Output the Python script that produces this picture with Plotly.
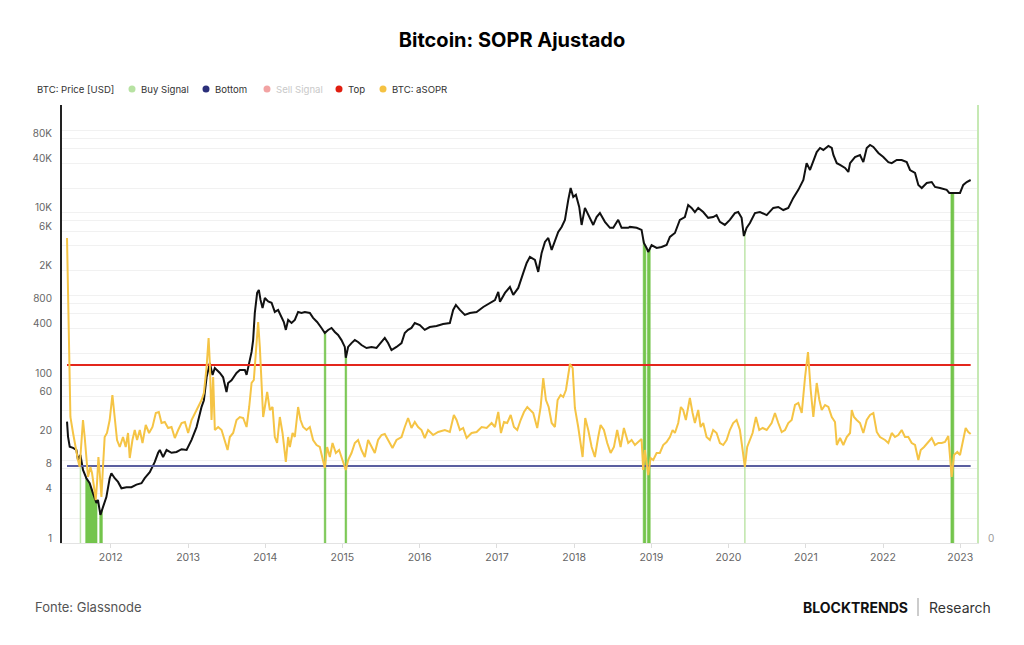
import numpy as np
import pandas as pd
import plotly.graph_objects as go

# ---------------- data ----------------
price_year = [
    2011.434, 2011.447, 2011.469, 2011.512, 2011.556, 2011.576, 2011.608, 2011.641, 2011.685, 2011.728,
    2011.771, 2011.815, 2011.835, 2011.867, 2011.900, 2011.944, 2011.987, 2012.009, 2012.052, 2012.095,
    2012.139, 2012.203, 2012.268, 2012.333, 2012.398, 2012.440, 2012.505, 2012.570, 2012.613, 2012.635,
    2012.677, 2012.722, 2012.786, 2012.851, 2012.916, 2012.981, 2013.045, 2013.110, 2013.175, 2013.205,
    2013.240, 2013.282, 2013.317, 2013.347, 2013.412, 2013.454, 2013.498, 2013.519, 2013.563, 2013.628,
    2013.671, 2013.736, 2013.758, 2013.795, 2013.823, 2013.843, 2013.865, 2013.895, 2013.917, 2013.939,
    2013.965, 2013.995, 2014.038, 2014.082, 2014.124, 2014.167, 2014.211, 2014.241, 2014.267, 2014.297,
    2014.341, 2014.383, 2014.426, 2014.470, 2014.513, 2014.578, 2014.620, 2014.672, 2014.729, 2014.772,
    2014.815, 2014.859, 2014.902, 2014.944, 2014.988, 2015.031, 2015.044, 2015.074, 2015.118, 2015.161,
    2015.203, 2015.247, 2015.312, 2015.377, 2015.442, 2015.507, 2015.549, 2015.592, 2015.636, 2015.701,
    2015.766, 2015.808, 2015.851, 2015.895, 2015.938, 2016.003, 2016.067, 2016.132, 2016.219, 2016.304,
    2016.391, 2016.434, 2016.469, 2016.521, 2016.585, 2016.650, 2016.737, 2016.823, 2016.909, 2016.974,
    2017.017, 2017.039, 2017.104, 2017.168, 2017.211, 2017.276, 2017.341, 2017.385, 2017.427, 2017.492,
    2017.535, 2017.579, 2017.622, 2017.665, 2017.709, 2017.751, 2017.794, 2017.838, 2017.881, 2017.924,
    2017.955, 2017.989, 2018.023, 2018.066, 2018.097, 2018.140, 2018.183, 2018.248, 2018.291, 2018.334,
    2018.399, 2018.464, 2018.507, 2018.571, 2018.615, 2018.701, 2018.723, 2018.810, 2018.874, 2018.904,
    2018.939, 2018.960, 2019.004, 2019.069, 2019.133, 2019.198, 2019.241, 2019.306, 2019.370, 2019.435,
    2019.478, 2019.522, 2019.565, 2019.608, 2019.673, 2019.737, 2019.802, 2019.846, 2019.889, 2019.953,
    2020.018, 2020.083, 2020.126, 2020.170, 2020.199, 2020.234, 2020.277, 2020.342, 2020.407, 2020.494,
    2020.579, 2020.644, 2020.709, 2020.773, 2020.838, 2020.903, 2020.968, 2021.010, 2021.054, 2021.097,
    2021.141, 2021.184, 2021.227, 2021.292, 2021.336, 2021.357, 2021.401, 2021.443, 2021.508, 2021.551,
    2021.573, 2021.637, 2021.702, 2021.745, 2021.789, 2021.832, 2021.875, 2021.940, 2022.004, 2022.069,
    2022.113, 2022.178, 2022.242, 2022.307, 2022.350, 2022.415, 2022.458, 2022.502, 2022.567, 2022.631,
    2022.674, 2022.738, 2022.825, 2022.859, 2022.911, 2022.998, 2023.040, 2023.085, 2023.136,
]
price_usd = [
    29.6, 19.5, 14.7, 14.2, 13.4, 10.2, 11.7, 7.7, 6.1, 5.3,
    4.0, 3.06, 3.32, 2.19, 2.72, 3.6, 6.1, 7.0, 6.1, 5.5,
    4.6, 4.75, 4.75, 5.1, 5.3, 6.1, 7.2, 9.6, 12.4, 13.4,
    11.0, 13.4, 12.4, 12.7, 13.7, 13.4, 17.8, 25.4, 44.7, 53.8,
    102, 152, 109, 132, 115, 102, 67.6, 87, 94, 115,
    125, 125, 109, 156, 207, 288, 615, 1075, 1168, 884,
    707, 934, 847, 817, 632, 668, 550, 477, 383, 505,
    464, 505, 632, 614, 632, 614, 535, 477, 404, 351,
    382, 404, 361, 332, 288, 238, 176, 238, 265, 288,
    273, 251, 231, 238, 231, 273, 306, 265, 218, 238,
    265, 351, 383, 405, 464, 439, 383, 415, 427, 451,
    464, 668, 768, 668, 582, 614, 632, 726, 815, 881,
    1105, 839, 1075, 1268, 1016, 1235, 1877, 2478, 2938, 2701,
    1934, 3284, 4459, 4979, 3564, 4712, 5890, 6762, 8260, 14410,
    20080, 15660, 16630, 11850, 7163, 11540, 9440, 7163, 8933, 9971,
    7812, 6608, 6608, 8260, 6608, 6608, 6785, 6608, 6242, 4324,
    3772, 3372, 4089, 3772, 3878, 4089, 5124, 5725, 8260, 8933,
    12490, 11520, 10270, 11520, 10270, 8732, 8933, 9440, 7812, 7163,
    8260, 9971, 10270, 8732, 5261, 6608, 7552, 9971, 10270, 9440,
    11520, 11820, 10870, 11520, 15240, 19080, 25160, 40170, 33260, 43870,
    54800, 61420, 58080, 64890, 61420, 50500, 40170, 38260, 35160, 31420,
    40170, 47720, 50500, 41360, 61420, 66800, 63220, 53400, 47720, 41360,
    40170, 43870, 43870, 41360, 33200, 30580, 21860, 20080, 23110, 23760,
    20670, 20080, 19080, 17490, 17490, 17490, 21860, 23760, 25110,
]

asopr_year = [
    2011.434, 2011.456, 2011.478, 2011.512, 2011.547, 2011.576, 2011.598, 2011.620, 2011.641, 2011.663,
    2011.685, 2011.706, 2011.737, 2011.758, 2011.784, 2011.806, 2011.823, 2011.841, 2011.858, 2011.880,
    2011.900, 2011.922, 2011.952, 2011.987, 2012.022, 2012.052, 2012.082, 2012.117, 2012.159, 2012.194,
    2012.224, 2012.246, 2012.281, 2012.311, 2012.341, 2012.376, 2012.411, 2012.453, 2012.496, 2012.540,
    2012.583, 2012.622, 2012.657, 2012.699, 2012.742, 2012.786, 2012.829, 2012.872, 2012.916, 2012.959,
    2013.001, 2013.045, 2013.088, 2013.131, 2013.175, 2013.205, 2013.240, 2013.266, 2013.282, 2013.304,
    2013.325, 2013.347, 2013.390, 2013.434, 2013.477, 2013.512, 2013.541, 2013.584, 2013.628, 2013.671,
    2013.714, 2013.758, 2013.792, 2013.823, 2013.852, 2013.887, 2013.908, 2013.930, 2013.952, 2013.973,
    2013.995, 2014.025, 2014.060, 2014.095, 2014.124, 2014.154, 2014.189, 2014.224, 2014.267, 2014.297,
    2014.319, 2014.354, 2014.383, 2014.426, 2014.457, 2014.491, 2014.535, 2014.578, 2014.620, 2014.665,
    2014.707, 2014.742, 2014.772, 2014.802, 2014.837, 2014.872, 2014.915, 2014.957, 2015.001, 2015.044,
    2015.074, 2015.118, 2015.161, 2015.203, 2015.247, 2015.290, 2015.333, 2015.377, 2015.420, 2015.462,
    2015.507, 2015.549, 2015.592, 2015.649, 2015.701, 2015.766, 2015.808, 2015.851, 2015.895, 2015.938,
    2015.981, 2016.025, 2016.067, 2016.110, 2016.175, 2016.240, 2016.326, 2016.391, 2016.443, 2016.478,
    2016.521, 2016.563, 2016.608, 2016.672, 2016.737, 2016.802, 2016.867, 2016.931, 2016.974, 2017.017,
    2017.052, 2017.091, 2017.133, 2017.178, 2017.220, 2017.263, 2017.307, 2017.350, 2017.393, 2017.427,
    2017.470, 2017.522, 2017.566, 2017.600, 2017.635, 2017.670, 2017.709, 2017.751, 2017.786, 2017.825,
    2017.859, 2017.894, 2017.924, 2017.946, 2017.981, 2018.010, 2018.053, 2018.084, 2018.110, 2018.144,
    2018.183, 2018.227, 2018.269, 2018.312, 2018.343, 2018.386, 2018.429, 2018.473, 2018.516, 2018.558,
    2018.602, 2018.645, 2018.701, 2018.745, 2018.788, 2018.830, 2018.874, 2018.895, 2018.917, 2018.939,
    2018.960, 2018.991, 2019.025, 2019.069, 2019.111, 2019.154, 2019.198, 2019.241, 2019.276, 2019.306,
    2019.349, 2019.383, 2019.413, 2019.448, 2019.478, 2019.500, 2019.535, 2019.565, 2019.608, 2019.639,
    2019.673, 2019.716, 2019.759, 2019.802, 2019.846, 2019.889, 2019.932, 2019.976, 2020.018, 2020.061,
    2020.105, 2020.148, 2020.183, 2020.212, 2020.242, 2020.277, 2020.312, 2020.355, 2020.398, 2020.442,
    2020.494, 2020.558, 2020.601, 2020.644, 2020.688, 2020.731, 2020.773, 2020.817, 2020.860, 2020.903,
    2020.947, 2020.990, 2021.028, 2021.063, 2021.097, 2021.141, 2021.175, 2021.206, 2021.249, 2021.292,
    2021.336, 2021.378, 2021.401, 2021.443, 2021.486, 2021.530, 2021.573, 2021.595, 2021.624, 2021.659,
    2021.702, 2021.745, 2021.789, 2021.832, 2021.875, 2021.919, 2021.961, 2022.026, 2022.069, 2022.113,
    2022.155, 2022.198, 2022.242, 2022.285, 2022.328, 2022.372, 2022.415, 2022.458, 2022.489, 2022.532,
    2022.587, 2022.631, 2022.674, 2022.717, 2022.761, 2022.803, 2022.846, 2022.868, 2022.890, 2022.920,
    2022.963, 2022.998, 2023.040, 2023.071, 2023.105, 2023.136,
]
asopr_value = [
    1.197, 1.115, 1.018, 1.002, 0.985, 0.975, 0.968, 0.988, 1.015, 0.998,
    0.975, 0.958, 0.968, 0.962, 0.948, 0.935, 0.952, 0.978, 0.962, 0.938,
    0.968, 0.998, 1.002, 1.015, 1.040, 1.015, 0.995, 0.988, 0.998, 0.988,
    1.002, 0.977, 0.995, 1.005, 0.995, 1.005, 0.992, 1.010, 1.002, 1.008,
    1.022, 1.023, 1.012, 1.013, 1.007, 1.008, 0.997, 1.005, 1.012, 1.013,
    1.002, 1.015, 1.022, 1.028, 1.035, 1.042, 1.068, 1.097, 1.072, 1.015,
    1.058, 1.005, 1.008, 1.005, 0.995, 0.985, 0.998, 1.002, 1.015, 1.018,
    1.017, 1.008, 1.028, 1.052, 1.055, 1.088, 1.113, 1.088, 1.045, 1.018,
    1.028, 1.043, 1.025, 1.028, 0.998, 0.992, 1.018, 1.002, 0.973, 0.998,
    0.988, 1.002, 0.998, 1.028, 1.015, 1.008, 1.005, 1.008, 0.995, 0.990,
    0.988, 0.975, 0.967, 0.988, 0.978, 0.992, 0.982, 0.985, 0.975, 0.965,
    0.975, 0.982, 0.992, 0.995, 0.985, 0.978, 0.995, 0.988, 0.982, 0.995,
    1.000, 1.001, 0.995, 0.987, 0.995, 0.998, 1.008, 1.017, 1.007, 1.013,
    1.008, 1.005, 0.997, 1.005, 1.000, 1.003, 1.005, 1.003, 1.020, 1.015,
    1.005, 1.007, 0.997, 1.002, 1.003, 1.008, 1.007, 1.012, 1.008, 1.023,
    1.002, 1.013, 1.012, 1.020, 1.008, 1.005, 1.015, 1.023, 1.028, 1.025,
    1.022, 1.007, 1.028, 1.057, 1.035, 1.028, 1.012, 1.008, 1.035, 1.040,
    1.038, 1.045, 1.060, 1.071, 1.067, 1.027, 1.008, 0.990, 0.978, 1.017,
    1.005, 0.988, 0.978, 0.998, 1.010, 1.005, 0.992, 0.982, 0.988, 1.005,
    0.988, 1.007, 0.992, 0.995, 0.990, 0.993, 0.996, 0.965, 0.985, 0.972,
    0.960, 0.977, 0.975, 0.982, 0.982, 0.990, 0.993, 0.998, 1.005, 1.002,
    1.012, 1.028, 1.025, 1.015, 1.028, 1.037, 1.022, 1.012, 1.025, 1.008,
    1.012, 0.998, 0.995, 1.005, 1.002, 0.992, 0.990, 0.995, 1.005, 1.012,
    1.015, 1.005, 0.985, 0.968, 0.988, 0.995, 1.002, 1.018, 1.005, 1.007,
    1.005, 1.012, 1.022, 1.012, 1.003, 1.005, 1.012, 1.015, 1.030, 1.032,
    1.022, 1.058, 1.083, 1.045, 1.018, 1.052, 1.035, 1.025, 1.030, 1.028,
    1.018, 1.013, 0.990, 0.997, 0.990, 0.998, 1.002, 1.025, 1.018, 1.015,
    1.012, 1.002, 1.015, 1.020, 1.022, 1.003, 0.998, 0.995, 0.992, 1.002,
    0.998, 1.000, 1.005, 0.998, 0.998, 0.992, 0.990, 0.975, 0.985, 0.988,
    0.993, 0.997, 0.990, 0.992, 0.992, 0.993, 0.999, 0.975, 0.958, 0.980,
    0.983, 0.980, 0.995, 1.007, 1.003, 1.001,
]

top_level = 1.070      # "Top" threshold of aSOPR
bottom_level = 0.969   # "Bottom" threshold of aSOPR

buy_start = [2011.608, 2011.676, 2011.858, 2014.765, 2015.035, 2018.895, 2018.951, 2020.212, 2022.880]
buy_end   = [2011.611, 2011.823, 2011.892, 2014.785, 2015.055, 2018.930, 2018.986, 2020.214, 2022.918]

year_ticks = list(range(2012, 2024))
price_grid = [1, 2, 4, 6, 8, 10, 20, 40, 60, 80, 100, 200, 400, 600, 800, 1000, 2000, 4000,
              6000, 8000, 10000, 20000, 40000, 60000, 80000, 100000]
price_labels = {1: "1", 4: "4", 8: "8", 20: "20", 60: "60", 100: "100", 400: "400", 800: "800",
                2000: "2K", 6000: "6K", 10000: "10K", 40000: "40K", 80000: "80K"}

title_text = "Bitcoin: SOPR Ajustado"
source_text = "Fonte: Glassnode"

# ---------------- helpers ----------------
def to_date(y):
    yi = int(np.floor(y))
    s = pd.Timestamp(yi, 1, 1)
    e = pd.Timestamp(yi + 1, 1, 1)
    return s + (e - s) * (y - yi)

# plot box in pixels (for placing legend/footer texts)
PL, PR, PT, PB = 62, 977, 105, 543
def px(x):
    return (x - PL) / (PR - PL)
def py(y):
    return (PB - y) / (PB - PT)

price_dates = [to_date(y) for y in price_year]
asopr_dates = [to_date(y) for y in asopr_year]
log_price = np.log10(price_usd)

fig = go.Figure()

# threshold lines (aSOPR axis)
for lvl, col in [(top_level, "#e3261c"), (bottom_level, "#5b5f9f")]:
    fig.add_trace(go.Scatter(x=[asopr_dates[0], asopr_dates[-1]], y=[lvl, lvl], yaxis="y2",
                             mode="lines", line=dict(color=col, width=2), hoverinfo="skip"))

# buy signals: bars from the axis bottom up to the price line
for s, e in zip(buy_start, buy_end):
    if e - s < 0.006:
        top = 10 ** np.interp(s, price_year, log_price)
        fig.add_trace(go.Scatter(x=[to_date(s), to_date(s)], y=[1, top], mode="lines",
                                 line=dict(color="#bfe5aa", width=1.5), hoverinfo="skip"))
    else:
        ts = np.linspace(s, e, 15)
        tops = 10 ** np.interp(ts, price_year, log_price)
        xs = [to_date(t) for t in ts] + [to_date(e), to_date(s), to_date(s)]
        ys = list(tops) + [1, 1, tops[0]]
        fig.add_trace(go.Scatter(x=xs, y=ys, mode="lines", fill="toself",
                                 fillcolor="#74c54c", line=dict(color="#74c54c", width=0.6),
                                 hoverinfo="skip"))

# aSOPR
fig.add_trace(go.Scatter(x=asopr_dates, y=asopr_value, yaxis="y2", mode="lines",
                         line=dict(color="#f5c445", width=2), name="BTC: aSOPR"))
# price
fig.add_trace(go.Scatter(x=price_dates, y=price_usd, mode="lines",
                         line=dict(color="#111111", width=2), name="BTC: Price [USD]"))
# empty series on the signal axis (right)
fig.add_trace(go.Scatter(x=[price_dates[0]], y=[0], yaxis="y3", mode="markers",
                         marker=dict(size=0.1, color="rgba(0,0,0,0)"), hoverinfo="skip"))

# ---------------- layout ----------------
fig.update_layout(
    width=1024, height=645,
    margin=dict(l=PL, r=1024 - PR, t=PT, b=645 - PB),
    paper_bgcolor="white", plot_bgcolor="white",
    showlegend=False,
    font=dict(family="Inter, Roboto, sans-serif", size=10, color="#666"),
    title=dict(text="<b>" + title_text + "</b>", x=0.5, xref="container", xanchor="center",
               y=1 - 40 / 645, yref="container", yanchor="middle",
               font=dict(family="Inter, Roboto, sans-serif", size=20, color="#000")),
    xaxis=dict(type="date", range=[to_date(2011.369), to_date(2023.218)],
               tickvals=[to_date(y) for y in year_ticks], ticktext=[str(y) for y in year_ticks],
               showgrid=False, zeroline=False, showline=True, linecolor="#e3e3e3", linewidth=1,
               ticks="outside", ticklen=4, tickcolor="#dddddd",
               tickfont=dict(size=10.5, color="#666")),
    yaxis=dict(type="log", range=[0, 5.309], tickvals=price_grid,
               ticktext=[price_labels.get(v, "") for v in price_grid],
               showgrid=True, gridcolor="#f1f1f1", gridwidth=1, zeroline=False,
               showline=True, linecolor="#222", linewidth=2, ticks="",
               ticklabelshift=-5, ticklabelstandoff=6,
               tickfont=dict(size=10, color="#666")),
    yaxis2=dict(overlaying="y", range=[0.892, 1.330], visible=False),
    yaxis3=dict(overlaying="y", side="right", range=[0, 1], tickvals=[0], ticktext=["0"],
                showgrid=False, zeroline=False, showline=True, linecolor="#c6e9b4", linewidth=2,
                ticks="", ticklabelshift=-5, ticklabelstandoff=7,
                tickfont=dict(size=10, color="#999")),
)

# legend (drawn as text + dots above the plot)
leg_y = 89
legend_items = [
    (None, 35, "BTC: Price [USD]", "#333"),
    ("#b7e2a2", 139, "Buy Signal", "#333"),
    ("#2b2f7a", 213, "Bottom", "#333"),
    ("#f2a3a3", 274, "Sell Signal", "#c9c9c9"),
    ("#e01e10", 346, "Top", "#333"),
    ("#f5c242", 390, "BTC: aSOPR", "#333"),
]
for dot, x0, txt, tcol in legend_items:
    fig.add_annotation(x=px(x0), y=py(leg_y), xref="paper", yref="paper", text=txt,
                       showarrow=False, xanchor="left", yanchor="middle",
                       font=dict(size=9.6, color=tcol, family="Inter, Roboto, sans-serif"))
    if dot:
        fig.add_shape(type="circle", xref="paper", yref="paper", xsizemode="pixel",
                      ysizemode="pixel", xanchor=px(x0 - 7), yanchor=py(leg_y),
                      x0=-3.5, x1=3.5, y0=-3.5, y1=3.5, fillcolor=dot, line=dict(width=0))

# footer
fig.add_annotation(x=px(33), y=py(607), xref="paper", yref="paper", text=source_text,
                   showarrow=False, xanchor="left", yanchor="middle",
                   font=dict(size=13, color="#555", family="Inter, Roboto, sans-serif"))
fig.add_annotation(x=px(910), y=py(607), xref="paper", yref="paper", text="<b>BLOCKTRENDS</b>",
                   showarrow=False, xanchor="right", yanchor="middle",
                   font=dict(size=14, color="#111", family="Inter, Roboto, sans-serif"))
fig.add_annotation(x=px(927), y=py(607), xref="paper", yref="paper", text="Research",
                   showarrow=False, xanchor="left", yanchor="middle",
                   font=dict(size=14, color="#333", family="Inter, Roboto, sans-serif"))
fig.add_shape(type="line", xref="paper", yref="paper", x0=px(918), x1=px(918),
              y0=py(598), y1=py(616), line=dict(color="#999", width=1))

fig.write_html("out.html")
